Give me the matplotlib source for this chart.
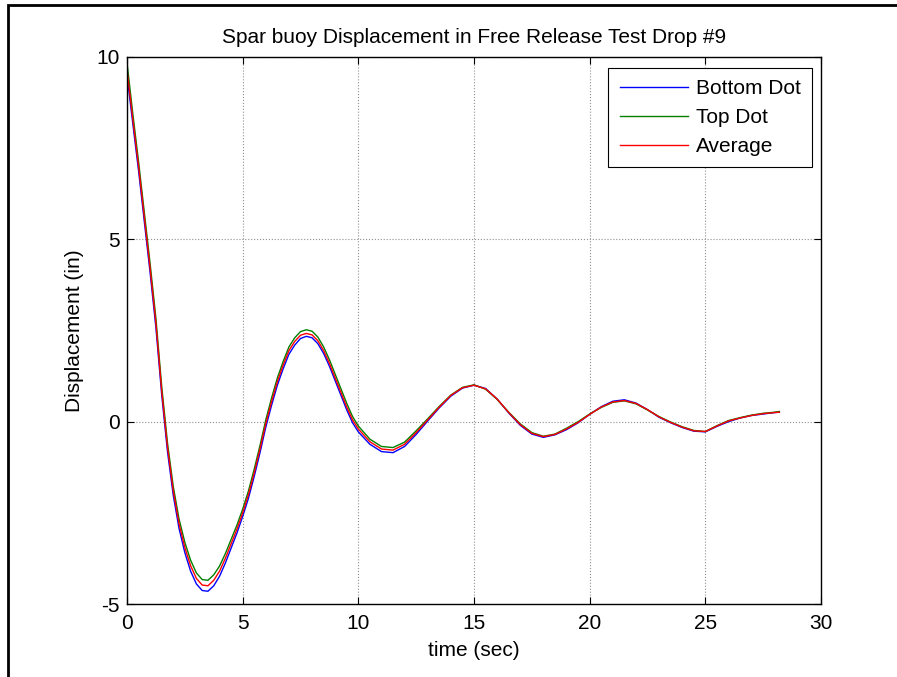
import numpy as np
import matplotlib
matplotlib.use("Agg")
import matplotlib.pyplot as plt
from matplotlib.patches import Rectangle

# time samples (sec)
time_s = list(np.round(np.arange(0, 10.01, 0.25), 2)) + list(np.round(np.arange(10.5, 28.01, 0.5), 2)) + [28.2]

bottom_dot = [9.5, 8.18, 6.88, 5.48, 4.08, 2.58, 0.74, -0.82, -2.02, -2.93,
              -3.59, -4.1, -4.45, -4.63, -4.65, -4.5, -4.24, -3.88, -3.47, -3.06,
              -2.6, -2.1, -1.5, -0.85, -0.15, 0.45, 1.0, 1.45, 1.85, 2.1,
              2.28, 2.34, 2.3, 2.14, 1.87, 1.52, 1.12, 0.72, 0.32, -0.03, -0.28,
              -0.62, -0.82, -0.85, -0.68, -0.35, 0.02, 0.38, 0.7, 0.92, 1.0,
              0.91, 0.62, 0.24, -0.1, -0.34, -0.43, -0.36, -0.22, -0.03, 0.2,
              0.41, 0.56, 0.6, 0.51, 0.33, 0.12, -0.03, -0.16, -0.26, -0.28,
              -0.13, 0.0, 0.1, 0.17, 0.21, 0.25, 0.26]

top_dot = [9.85, 8.45, 7.13, 5.73, 4.33, 2.83, 0.97, -0.58, -1.78, -2.67,
           -3.31, -3.8, -4.15, -4.33, -4.35, -4.2, -3.96, -3.62, -3.23, -2.84,
           -2.4, -1.9, -1.3, -0.65, 0.05, 0.65, 1.2, 1.65, 2.05, 2.3,
           2.47, 2.52, 2.48, 2.32, 2.05, 1.7, 1.3, 0.9, 0.5, 0.14, -0.12,
           -0.48, -0.68, -0.71, -0.56, -0.25, 0.08, 0.42, 0.73, 0.94, 1.01,
           0.89, 0.61, 0.26, -0.06, -0.3, -0.4, -0.34, -0.18, 0.0, 0.21,
           0.39, 0.53, 0.57, 0.49, 0.32, 0.14, -0.01, -0.14, -0.24, -0.27,
           -0.11, 0.03, 0.11, 0.18, 0.23, 0.26, 0.28]

average = [9.65, 8.3, 7.0, 5.6, 4.2, 2.7, 0.85, -0.7, -1.9, -2.8,
           -3.45, -3.95, -4.3, -4.48, -4.5, -4.35, -4.1, -3.75, -3.35, -2.95,
           -2.5, -2.0, -1.4, -0.75, -0.05, 0.55, 1.1, 1.55, 1.95, 2.2,
           2.37, 2.42, 2.38, 2.22, 1.95, 1.6, 1.2, 0.8, 0.4, 0.05, -0.2,
           -0.55, -0.75, -0.78, -0.62, -0.3, 0.05, 0.4, 0.72, 0.93, 1.0,
           0.9, 0.62, 0.25, -0.08, -0.32, -0.41, -0.35, -0.2, -0.02, 0.2,
           0.4, 0.54, 0.58, 0.5, 0.33, 0.13, -0.02, -0.15, -0.25, -0.27,
           -0.12, 0.02, 0.1, 0.17, 0.22, 0.25, 0.26]

series_labels = ["Bottom Dot", "Top Dot", "Average"]
x_ticks = [0, 5, 10, 15, 20, 25, 30]
y_ticks = [-5, 0, 5, 10]

plt.rcParams['font.family'] = ['Liberation Sans', 'DejaVu Sans']
plt.rcParams['axes.unicode_minus'] = False
FS = 15

fig = plt.figure(figsize=(8.97, 6.77), dpi=100)
fig.patches.append(Rectangle((8/897, -0.2), 1.2, 1.2 - 5/677, transform=fig.transFigure,
                             fill=False, edgecolor='black', linewidth=2))
ax = fig.add_axes([127/897, 73/677, 694/897, 547/677])

ax.plot(time_s, bottom_dot, color='#0000ff', lw=1.0, label=series_labels[0])
ax.plot(time_s, top_dot, color='#008000', lw=1.0, label=series_labels[1])
ax.plot(time_s, average, color='#ff0000', lw=1.0, label=series_labels[2])

ax.set_xlim(0, 30)
ax.set_ylim(-5, 10)
ax.set_xticks(x_ticks)
ax.set_yticks(y_ticks)
ax.tick_params(direction='in', top=True, right=True, length=5, width=0.8, labelsize=FS)
ax.tick_params(axis='x', pad=7)
ax.tick_params(axis='y', pad=5)
for s in ax.spines.values():
    s.set_linewidth(1.0)
ax.grid(True, color='#909090', linestyle=':', linewidth=0.8)

ax.set_title("Spar buoy Displacement in Free Release Test Drop #9", fontsize=FS, pad=10)
ax.set_xlabel("time (sec)", fontsize=FS, labelpad=6)
ax.set_ylabel("Displacement (in)", fontsize=FS, labelpad=9)

leg = ax.legend(loc='upper right', bbox_to_anchor=(0.987, 0.980), borderaxespad=0,
                fontsize=FS, fancybox=False, framealpha=1, edgecolor='black',
                handlelength=3.3, handletextpad=0.35, labelspacing=0.47, borderpad=0.55)
leg.get_frame().set_linewidth(0.8)

fig.savefig("out.png", dpi=100)
